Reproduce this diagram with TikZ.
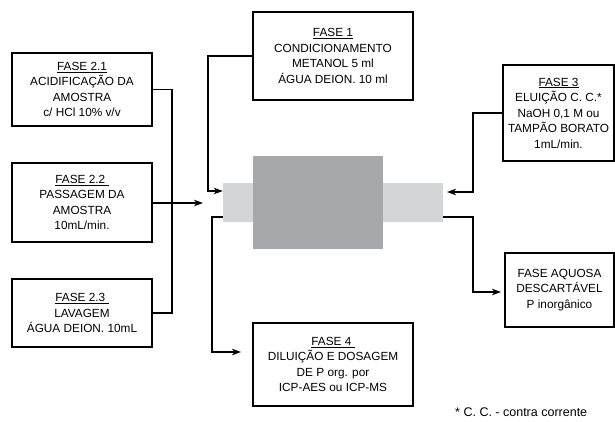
\documentclass[tikz,border=0pt]{standalone}
\usepackage{fontspec}
\setmainfont{Liberation Sans}
\usetikzlibrary{arrows.meta}
\definecolor{tubelight}{HTML}{D4D5D7}
\definecolor{tubedark}{HTML}{A7A8AC}
\begin{document}
\begin{tikzpicture}[x=1pt,y=-1pt,
  phasebox/.style={draw=black, line width=1.4pt, fill=white, align=center, inner sep=0pt,
    font=\fontsize{11.8}{15.5}\selectfont},
  conn/.style={line width=1.4pt, black},
  arr/.style={conn, -{Stealth[length=9pt,width=6.5pt,inset=2.5pt]}},
  txt/.style={font=\fontsize{12.5}{15}\selectfont, inner sep=0pt}]
\useasboundingbox (0,0) rectangle (615,421);

% cartridge
\node[fill=tubelight, minimum width=220pt, minimum height=39pt, inner sep=0pt] (tube) at (333,202.5) {};
\node[fill=tubedark, minimum width=130pt, minimum height=93pt, inner sep=0pt] (body) at (318,202.5) {};

% boxes
\node[phasebox, minimum width=140pt, minimum height=73pt] (b21) at (82,89.5)
  {\underline{FASE 2.1}\\ACIDIFICAÇÃO DA\\AMOSTRA\\c/ HCl 10\% v/v};
\node[phasebox, minimum width=140pt, minimum height=79pt] (b22) at (82,202.5)
  {\underline{FASE 2.2\ }\\PASSAGEM DA\\AMOSTRA\\10mL/min.};
\node[phasebox, minimum width=140pt, minimum height=68pt] (b23) at (82,313)
  {\underline{FASE 2.3\ }\\LAVAGEM\\ÁGUA DEION. 10mL};
\node[phasebox, minimum width=160pt, minimum height=88pt] (b1) at (333,56)
  {\underline{FASE 1}\\CONDICIONAMENTO\\METANOL 5 ml\\ÁGUA DEION. 10 ml};
\node[phasebox, minimum width=160pt, minimum height=83pt] (b4) at (333,364.5)
  {\underline{FASE 4\ }\\DILUIÇÃO E DOSAGEM\\DE P org. por\\ICP-AES ou ICP-MS};
\node[phasebox, minimum width=111pt, minimum height=96pt] (b3) at (558.5,113)
  {\underline{FASE 3}\\ELUIÇÃO C. C.*\\NaOH 0,1 M ou\\TAMPÃO BORATO\\1mL/min.};
\node[phasebox, minimum width=109pt, minimum height=74pt] (baq) at (559.5,290)
  {FASE AQUOSA\\DESCARTÁVEL\\P inorgânico};

\node[txt, anchor=base west] (note) at (455,416) {* C. C. - contra corrente};

% connector coordinates
\coordinate (j) at (172,203);
\coordinate (a22) at (203,203);
\coordinate (c1) at (208,191);
\coordinate (c4a) at (212,217);
\coordinate (c4b) at (241,352);
\coordinate (c3) at (473,192);
\coordinate (a3) at (447,192);
\coordinate (c5a) at (473,217);
\coordinate (c5b) at (501,292);

% connectors
\draw[conn] (b21.east) -| (j) |- (b23.east);
\draw[arr] (b22.east |- j) -- (a22);
\draw[arr] (b1.west) -| (c1) -- (tube.west |- c1);
\draw[arr] (tube.west |- c4a) -- (c4a) |- (c4b);
\draw[arr] (b3.west) -| (c3) -- (a3);
\draw[arr] (tube.east |- c5a) -- (c5a) |- (c5b);
\end{tikzpicture}
\end{document}
